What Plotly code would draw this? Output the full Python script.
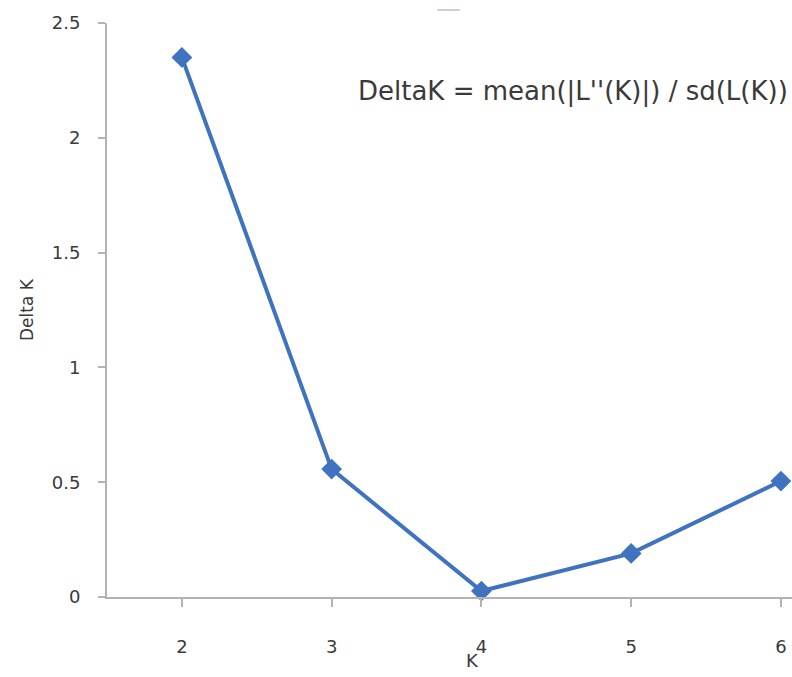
import plotly.graph_objects as go

k_values = [2, 3, 4, 5, 6]
delta_k = [2.35, 0.557, 0.026, 0.19, 0.505]
y_ticks = [0, 0.5, 1, 1.5, 2, 2.5]
y_tick_labels = ["0", "0.5", "1", "1.5", "2", "2.5"]
formula_text = "DeltaK = mean(|L''(K)|) / sd(L(K))"
x_title = "K"
y_title = "Delta K"

blue = "#3F73BF"
axis_gray = "#B3B3B3"
text_gray = "#3A3A3A"
font_family = "DejaVu Sans, Verdana, sans-serif"

fig = go.Figure()
fig.add_trace(go.Scatter(
    x=k_values, y=delta_k, mode="lines+markers",
    line=dict(color=blue, width=4),
    marker=dict(symbol="diamond", size=16, color=blue),
    showlegend=False, cliponaxis=False,
))

fig.update_layout(
    width=792, height=677,
    margin=dict(l=107, r=0, t=23, b=80),
    paper_bgcolor="white", plot_bgcolor="white",
    font=dict(family=font_family, color=text_gray, size=18),
    xaxis=dict(
        range=[1.5, 6.074], tickvals=k_values, ticktext=[str(k) for k in k_values],
        showgrid=False, zeroline=False, showline=True, linecolor=axis_gray, linewidth=2,
        ticks="outside", ticklen=8, tickcolor=axis_gray, tickwidth=2,
        tickfont=dict(size=18, color=text_gray), ticklabelstandoff=24,
    ),
    yaxis=dict(
        range=[0, 2.5], tickvals=y_ticks, ticktext=y_tick_labels,
        showgrid=False, zeroline=False, showline=True, linecolor=axis_gray, linewidth=2,
        ticks="outside", ticklen=7, tickcolor=axis_gray, tickwidth=2,
        tickfont=dict(size=18, color=text_gray), ticklabelstandoff=14,
        title=dict(text=y_title, font=dict(size=17, color=text_gray), standoff=14),
    ),
    annotations=[
        dict(text=formula_text, xref="paper", yref="paper", x=0.997, y=0.8815,
             xanchor="right", yanchor="middle", showarrow=False,
             font=dict(size=26, color=text_gray, family=font_family)),
        dict(text=x_title, xref="paper", yref="paper", x=0.534, y=-0.111,
             xanchor="center", yanchor="middle", showarrow=False,
             font=dict(size=18, color=text_gray, family=font_family)),
    ],
    shapes=[dict(type="line", xref="paper", yref="paper", x0=0.482, x1=0.515, y0=1.0226, y1=1.0226,
                 line=dict(color="#C8D0DC", width=2))],
)

fig.write_html(
    "out.html",
    config={"displayModeBar": False},
    post_script="document.body.style.margin='0';document.body.style.overflow='hidden';",
)
